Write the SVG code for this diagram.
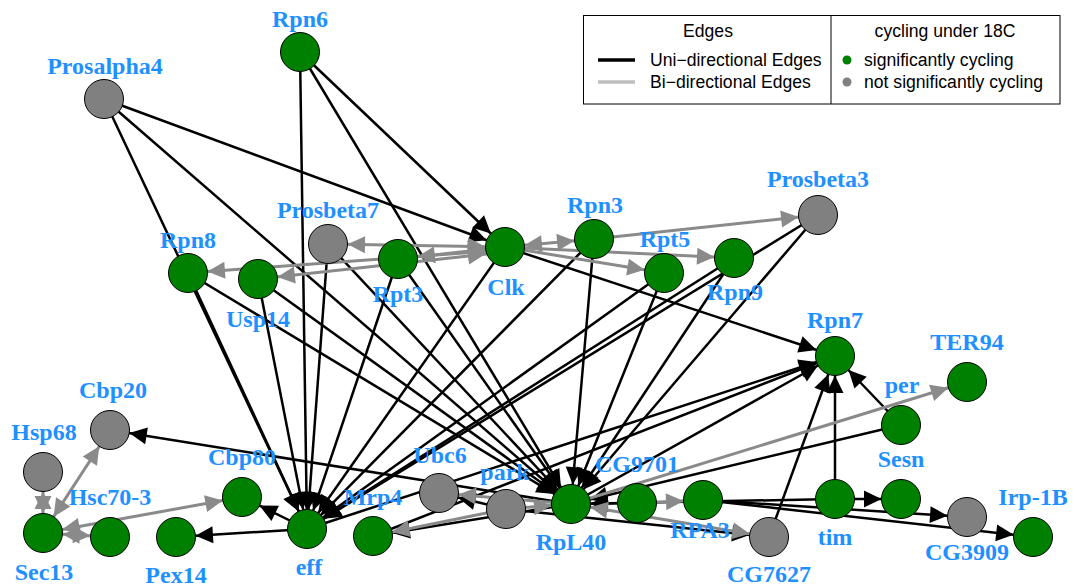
<svg xmlns="http://www.w3.org/2000/svg" width="1073" height="588" viewBox="0 0 1073 588">
<style>
.e{stroke:#000;stroke-width:2.5;fill:none;marker-end:url(#ab)}
.g{stroke:#8a8a8a;stroke-width:3;fill:none;marker-end:url(#ag)}
.g2{stroke:#8a8a8a;stroke-width:3;fill:none;marker-end:url(#ag);marker-start:url(#ag)}
.ng{fill:#008000;stroke:#000;stroke-width:1}
.nx{fill:#808080;stroke:#000;stroke-width:1}
.lb{font-family:"Liberation Serif","Times New Roman",serif;font-weight:bold;font-size:24px;fill:#1E90FF;text-anchor:middle}
.lg{font-family:"Liberation Sans",Arial,sans-serif;font-size:17.6px;fill:#000}
</style>
<defs>
<marker id="ab" markerUnits="userSpaceOnUse" orient="auto-start-reverse" refX="0" refY="0" markerWidth="1" markerHeight="1" overflow="visible"><path d="M-19.5,0 L-37,-8.5 L-37,8.5 Z" fill="#000"/></marker>
<marker id="ag" markerUnits="userSpaceOnUse" orient="auto-start-reverse" refX="0" refY="0" markerWidth="1" markerHeight="1" overflow="visible"><path d="M-19.5,0 L-37,-8.5 L-37,8.5 Z" fill="#8a8a8a"/></marker>
</defs>
<g id="edges">
<line class="e" x1="300" y1="52" x2="505" y2="247"/>
<line class="e" x1="300" y1="52" x2="307" y2="529"/>
<line class="e" x1="300" y1="52" x2="571" y2="504"/>
<line class="e" x1="104" y1="99" x2="505" y2="247"/>
<line class="e" x1="104" y1="99" x2="571" y2="504"/>
<line class="e" x1="104" y1="99" x2="307" y2="529"/>
<line class="e" x1="188" y1="273" x2="307" y2="529"/>
<line class="e" x1="188" y1="273" x2="571" y2="504"/>
<line class="e" x1="258" y1="279" x2="307" y2="529"/>
<line class="e" x1="258" y1="279" x2="571" y2="504"/>
<line class="e" x1="328" y1="244" x2="307" y2="529"/>
<line class="e" x1="328" y1="244" x2="571" y2="504"/>
<line class="e" x1="398" y1="259" x2="307" y2="529"/>
<line class="e" x1="398" y1="259" x2="571" y2="504"/>
<line class="e" x1="505" y1="247" x2="307" y2="529"/>
<line class="e" x1="505" y1="247" x2="835" y2="356"/>
<line class="e" x1="594" y1="239" x2="307" y2="529"/>
<line class="e" x1="594" y1="239" x2="571" y2="504"/>
<line class="e" x1="664" y1="273" x2="307" y2="529"/>
<line class="e" x1="664" y1="273" x2="571" y2="504"/>
<line class="e" x1="734" y1="258" x2="307" y2="529"/>
<line class="e" x1="734" y1="258" x2="571" y2="504"/>
<line class="e" x1="818" y1="215" x2="307" y2="529"/>
<line class="e" x1="818" y1="215" x2="571" y2="504"/>
<line class="e" x1="307" y1="529" x2="242" y2="497"/>
<line class="e" x1="307" y1="529" x2="176" y2="537"/>
<line class="e" x1="307" y1="529" x2="835" y2="356"/>
<line class="e" x1="373" y1="536" x2="835" y2="356"/>
<line class="e" x1="571" y1="504" x2="835" y2="356"/>
<line class="e" x1="835" y1="499" x2="835" y2="356"/>
<line class="e" x1="769" y1="537" x2="835" y2="356"/>
<line class="e" x1="901" y1="425" x2="835" y2="356"/>
<line class="e" x1="901" y1="425" x2="571" y2="504"/>
<line class="e" x1="571" y1="504" x2="110" y2="430"/>
<line class="e" x1="571" y1="504" x2="373" y2="536"/>
<line class="e" x1="506" y1="509" x2="439" y2="493"/>
<line class="e" x1="835" y1="499" x2="901" y2="499"/>
<line class="e" x1="835" y1="499" x2="571" y2="504"/>
<line class="e" x1="703" y1="500" x2="967" y2="517"/>
<line class="e" x1="703" y1="500" x2="1033" y2="537"/>
<line class="e" x1="506" y1="509" x2="769" y2="537"/>
<line class="e" x1="637" y1="503" x2="571" y2="504"/>
<line class="g2" x1="505" y1="247" x2="328" y2="244"/>
<line class="g2" x1="505" y1="250" x2="188" y2="273"/>
<line class="g2" x1="505" y1="252" x2="258" y2="279"/>
<line class="g2" x1="398" y1="259" x2="505" y2="247"/>
<line class="g2" x1="505" y1="247" x2="594" y2="239"/>
<line class="g" x1="505" y1="247" x2="664" y2="273"/>
<line class="g" x1="505" y1="247" x2="734" y2="258"/>
<line class="g" x1="594" y1="239" x2="818" y2="215"/>
<line class="g2" x1="43" y1="533" x2="43" y2="472"/>
<line class="g2" x1="43" y1="533" x2="110" y2="430"/>
<line class="g2" x1="43" y1="533" x2="110" y2="537"/>
<line class="g2" x1="43" y1="533" x2="242" y2="497"/>
<line class="g" x1="571" y1="504" x2="967" y2="382"/>
<line class="g" x1="506" y1="509" x2="571" y2="504"/>
<line class="g" x1="506" y1="509" x2="373" y2="536"/>
<line class="g" x1="571" y1="504" x2="439" y2="493"/>
<line class="g" x1="637" y1="503" x2="703" y2="500"/>
<line class="g2" x1="571" y1="504" x2="769" y2="537"/>
</g>
<g id="Rpn6"><circle class="ng" cx="300" cy="52" r="19.5"/><text class="lb" x="300" y="27">Rpn6</text></g>
<g id="Prosalpha4"><circle class="nx" cx="104" cy="99" r="19.5"/><text class="lb" x="105" y="74">Prosalpha4</text></g>
<g id="Prosbeta7"><circle class="nx" cx="328" cy="244" r="19.5"/><text class="lb" x="328" y="218">Prosbeta7</text></g>
<g id="Rpt3"><circle class="ng" cx="398" cy="259" r="19.5"/><text class="lb" x="398" y="302">Rpt3</text></g>
<g id="Clk"><circle class="ng" cx="505" cy="247" r="19.5"/><text class="lb" x="506" y="295">Clk</text></g>
<g id="Rpn3"><circle class="ng" cx="594" cy="239" r="19.5"/><text class="lb" x="595" y="213">Rpn3</text></g>
<g id="Rpt5"><circle class="ng" cx="664" cy="273" r="19.5"/><text class="lb" x="665" y="247">Rpt5</text></g>
<g id="Rpn9"><circle class="ng" cx="734" cy="258" r="19.5"/><text class="lb" x="735" y="300">Rpn9</text></g>
<g id="Prosbeta3"><circle class="nx" cx="818" cy="215" r="19.5"/><text class="lb" x="818" y="187">Prosbeta3</text></g>
<g id="Rpn8"><circle class="ng" cx="188" cy="273" r="19.5"/><text class="lb" x="188" y="248">Rpn8</text></g>
<g id="Usp14"><circle class="ng" cx="258" cy="279" r="19.5"/><text class="lb" x="258" y="327">Usp14</text></g>
<g id="Rpn7"><circle class="ng" cx="835" cy="356" r="19.5"/><text class="lb" x="835" y="328">Rpn7</text></g>
<g id="TER94"><circle class="ng" cx="967" cy="382" r="19.5"/><text class="lb" x="967" y="350">TER94</text></g>
<g id="per"><circle class="ng" cx="901" cy="425" r="19.5"/><text class="lb" x="902" y="393">per</text></g>
<g id="Cbp20"><circle class="nx" cx="110" cy="430" r="19.5"/><text class="lb" x="113" y="398">Cbp20</text></g>
<g id="Hsp68"><circle class="nx" cx="43" cy="472" r="19.5"/><text class="lb" x="44" y="440">Hsp68</text></g>
<g id="Sec13"><circle class="ng" cx="43" cy="533" r="19.5"/><text class="lb" x="44" y="580">Sec13</text></g>
<g id="Hsc70-3"><circle class="ng" cx="110" cy="537" r="19.5"/><text class="lb" x="110" y="505">Hsc70-3</text></g>
<g id="Pex14"><circle class="ng" cx="176" cy="537" r="19.5"/><text class="lb" x="176" y="583">Pex14</text></g>
<g id="Cbp80"><circle class="ng" cx="242" cy="497" r="19.5"/><text class="lb" x="242" y="465">Cbp80</text></g>
<g id="eff"><circle class="ng" cx="307" cy="529" r="19.5"/><text class="lb" x="309" y="575">eff</text></g>
<g id="Mrp4"><circle class="ng" cx="373" cy="536" r="19.5"/><text class="lb" x="373" y="505">Mrp4</text></g>
<g id="Ubc6"><circle class="nx" cx="439" cy="493" r="19.5"/><text class="lb" x="440" y="463">Ubc6</text></g>
<g id="park"><circle class="nx" cx="506" cy="509" r="19.5"/><text class="lb" x="505" y="480">park</text></g>
<g id="RpL40"><circle class="ng" cx="571" cy="504" r="19.5"/><text class="lb" x="571" y="550">RpL40</text></g>
<g id="CG9701"><circle class="ng" cx="637" cy="503" r="19.5"/><text class="lb" x="637" y="472">CG9701</text></g>
<g id="RPA3"><circle class="ng" cx="703" cy="500" r="19.5"/><text class="lb" x="700" y="538">RPA3</text></g>
<g id="CG7627"><circle class="nx" cx="769" cy="537" r="19.5"/><text class="lb" x="769" y="582">CG7627</text></g>
<g id="tim"><circle class="ng" cx="835" cy="499" r="19.5"/><text class="lb" x="835" y="545">tim</text></g>
<g id="Sesn"><circle class="ng" cx="901" cy="499" r="19.5"/><text class="lb" x="901" y="467">Sesn</text></g>
<g id="CG3909"><circle class="nx" cx="967" cy="517" r="19.5"/><text class="lb" x="967" y="560">CG3909</text></g>
<g id="Irp-1B"><circle class="ng" cx="1033" cy="537" r="19.5"/><text class="lb" x="1033" y="505">Irp-1B</text></g>
<g id="legend">
<rect x="583.5" y="15.5" width="476.5" height="88.5" fill="#fff" stroke="#000" stroke-width="1"/>
<line x1="831" y1="15.5" x2="831" y2="104" stroke="#000" stroke-width="1"/>
<text class="lg" x="708" y="37" text-anchor="middle">Edges</text>
<text class="lg" x="945" y="37" text-anchor="middle">cycling under 18C</text>
<line x1="598" y1="60" x2="635" y2="60" stroke="#000" stroke-width="3.5"/>
<line x1="598" y1="82" x2="635" y2="82" stroke="#bebebe" stroke-width="3.5"/>
<text class="lg" x="650" y="66">Uni−directional Edges</text>
<text class="lg" x="650" y="88">Bi−directional Edges</text>
<circle cx="847" cy="60" r="4.5" fill="#008000"/>
<circle cx="847" cy="82" r="4.5" fill="#808080"/>
<text class="lg" x="864" y="66">significantly cycling</text>
<text class="lg" x="864" y="88">not significantly cycling</text>
</g>
</svg>
